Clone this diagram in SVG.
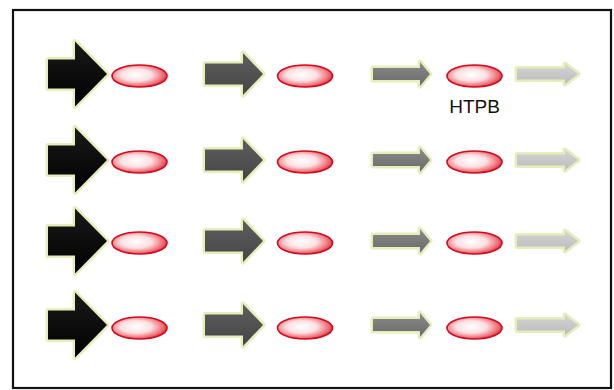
<svg xmlns="http://www.w3.org/2000/svg" xmlns:xlink="http://www.w3.org/1999/xlink" width="614" height="390" viewBox="0 0 614 390">
  <style>
    .frame { fill: #ffffff; stroke: #111111; stroke-width: 2.2; }
    .glow { stroke: #e4efbc; stroke-width: 5; stroke-linejoin: round; paint-order: stroke; }
    .a1 { fill: url(#g1); }
    .a2 { fill: url(#g2); }
    .a3 { fill: url(#g3); }
    .a4 { fill: url(#g4); }
    .bead { fill: url(#rg); stroke: #d40a1c; stroke-width: 1.6; }
    .lbl { font-family: "Liberation Sans", Arial, sans-serif; font-size: 19px; fill: #111111; }
  </style>
  <defs>
    <linearGradient id="g1" x1="0" y1="0" x2="0" y2="1">
      <stop offset="0" stop-color="#1a1a1a"/>
      <stop offset="1" stop-color="#000000"/>
    </linearGradient>
    <linearGradient id="g2" x1="0" y1="0" x2="0" y2="1">
      <stop offset="0" stop-color="#5e5e5e"/>
      <stop offset="1" stop-color="#454545"/>
    </linearGradient>
    <linearGradient id="g3" x1="0" y1="0" x2="0" y2="1">
      <stop offset="0" stop-color="#8a8a8a"/>
      <stop offset="1" stop-color="#6a6a6a"/>
    </linearGradient>
    <linearGradient id="g4" x1="0" y1="0" x2="0" y2="1">
      <stop offset="0" stop-color="#d4d4d4"/>
      <stop offset="1" stop-color="#bcbcbc"/>
    </linearGradient>
    <radialGradient id="rg" cx="0.44" cy="0.45" r="0.62">
      <stop offset="0" stop-color="#ffffff"/>
      <stop offset="0.45" stop-color="#fbe0e2"/>
      <stop offset="0.8" stop-color="#ee6a72"/>
      <stop offset="1" stop-color="#d8101e"/>
    </radialGradient>
    <path id="p1" d="M48,-14.5 H75 V-32.5 L107,0 L75,32.5 V14.5 H48 Z"/>
    <path id="p2" d="M205,-10.5 H243 V-21 L263,0 L243,21 V10.5 H205 Z"/>
    <path id="p3" d="M373,-6 H420 V-12 L430,0 L420,12 V6 H373 Z"/>
    <path id="p4" d="M517,-5.5 H565 V-10 L578,0 L565,10 V5.5 H517 Z"/>
  </defs>

  <rect class="frame" x="13" y="10" width="598" height="378"/>

  <g id="connectors">
    <g transform="translate(0,74)">
      <use xlink:href="#p1" class="a1 glow"/>
      <use xlink:href="#p2" class="a2 glow"/>
      <use xlink:href="#p3" class="a3 glow"/>
      <use xlink:href="#p4" class="a4 glow"/>
    </g>
    <g transform="translate(0,160)">
      <use xlink:href="#p1" class="a1 glow"/>
      <use xlink:href="#p2" class="a2 glow"/>
      <use xlink:href="#p3" class="a3 glow"/>
      <use xlink:href="#p4" class="a4 glow"/>
    </g>
    <g transform="translate(0,241)">
      <use xlink:href="#p1" class="a1 glow"/>
      <use xlink:href="#p2" class="a2 glow"/>
      <use xlink:href="#p3" class="a3 glow"/>
      <use xlink:href="#p4" class="a4 glow"/>
    </g>
    <g transform="translate(0,325)">
      <use xlink:href="#p1" class="a1 glow"/>
      <use xlink:href="#p2" class="a2 glow"/>
      <use xlink:href="#p3" class="a3 glow"/>
      <use xlink:href="#p4" class="a4 glow"/>
    </g>
  </g>

  <g id="bead-r1c1"><ellipse class="bead" cx="139.5" cy="76" rx="27.5" ry="11"/></g>
  <g id="bead-r1c2"><ellipse class="bead" cx="305" cy="76" rx="27.5" ry="11"/></g>
  <g id="bead-r1c3"><ellipse class="bead" cx="474.5" cy="76" rx="27.5" ry="11"/>
    <text class="lbl" x="474.5" y="113" text-anchor="middle">HTPB</text></g>
  <g id="bead-r2c1"><ellipse class="bead" cx="139.5" cy="162" rx="27.5" ry="11"/></g>
  <g id="bead-r2c2"><ellipse class="bead" cx="305" cy="162" rx="27.5" ry="11"/></g>
  <g id="bead-r2c3"><ellipse class="bead" cx="474.5" cy="162" rx="27.5" ry="11"/></g>
  <g id="bead-r3c1"><ellipse class="bead" cx="139.5" cy="243" rx="27.5" ry="11"/></g>
  <g id="bead-r3c2"><ellipse class="bead" cx="305" cy="243" rx="27.5" ry="11"/></g>
  <g id="bead-r3c3"><ellipse class="bead" cx="474.5" cy="243" rx="27.5" ry="11"/></g>
  <g id="bead-r4c1"><ellipse class="bead" cx="139.5" cy="328" rx="27.5" ry="11"/></g>
  <g id="bead-r4c2"><ellipse class="bead" cx="305" cy="328" rx="27.5" ry="11"/></g>
  <g id="bead-r4c3"><ellipse class="bead" cx="474.5" cy="328" rx="27.5" ry="11"/></g>
</svg>
